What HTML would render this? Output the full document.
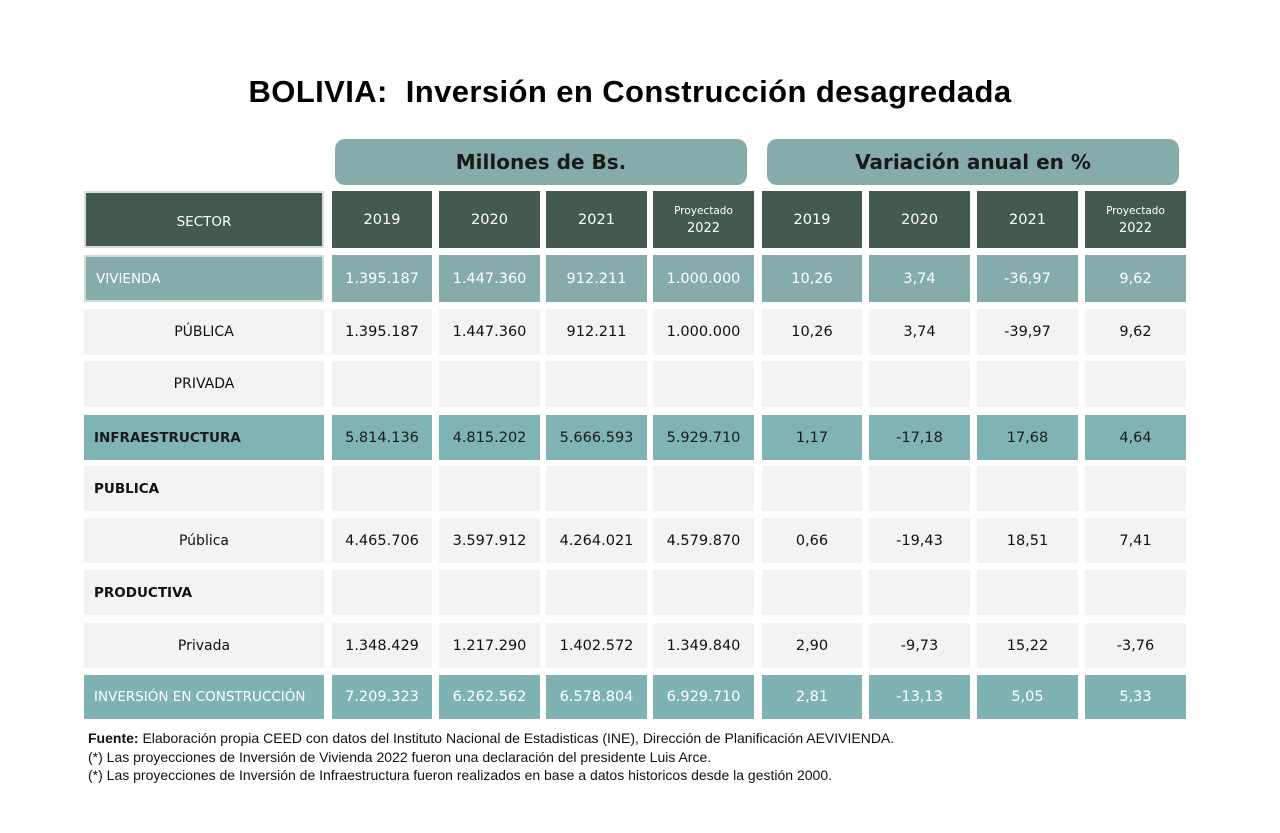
<!DOCTYPE html>
<html><head><meta charset="utf-8"><style>
body{margin:0;width:1280px;height:833px;background:#fff;position:relative;font-family:"DejaVu Sans","Liberation Sans",sans-serif;overflow:hidden}
.t{position:absolute;left:0;width:1260px;top:74px;text-align:center;font:bold 31px "Liberation Sans",sans-serif;color:#000;letter-spacing:0.4px}
.pill{position:absolute;top:139px;height:46px;background:#85abab;border-radius:10px;color:#1a1a1a;font:bold 20px "DejaVu Sans",sans-serif;display:flex;align-items:center;justify-content:center}
.r{position:absolute;left:0;width:1280px}
.c{position:absolute;top:0;height:100%;display:flex;align-items:center;justify-content:center;font-size:14.5px;color:#111;box-sizing:border-box}
.c0{left:84px;width:240px}.c1{left:332px;width:100px}.c2{left:439px;width:101px}.c3{left:546px;width:101px}.c4{left:653px;width:101px}
.c5{left:762px;width:100px}.c6{left:869px;width:101px}.c7{left:977px;width:101px}.c8{left:1085px;width:101px}
.h .c{background:#455a4e;color:#fff;font-size:14.5px}
.h .c0{font-size:13.5px;border:2px solid #d8ddd9;padding-top:4px}
.h small{font-size:10.5px;display:block;text-align:center;line-height:18px}
.h .p{display:block;text-align:center;line-height:18px;font-size:13px}
.l .c{background:#f3f3f3}
.v .c{background:#85abab;color:#fff}
.i .c{background:#80b3b3;color:#1a1a1a}
.z .c{background:#7fb2b2;color:#fff}
.lab{justify-content:flex-start!important;padding-left:10px;font-size:13.5px!important}
.v .c0{border:2px solid #cfdcdc}
.sub{font-size:14px!important}
.b{font-weight:bold}
.f{position:absolute;left:88px;font:14px "Liberation Sans",sans-serif;color:#111}
</style></head><body>
<div class="t">BOLIVIA:&nbsp; Inversión en Construcción desagredada</div>
<div class="pill" style="left:335px;width:412px">Millones de Bs.</div>
<div class="pill" style="left:767px;width:412px">Variación anual en %</div>

<div class="r h" style="top:191px;height:57px"><div class="c c0">SECTOR</div><div class="c c1">2019</div><div class="c c2">2020</div><div class="c c3">2021</div><div class="c c4"><span><small>Proyectado</small><span class="p">2022</span></span></div><div class="c c5">2019</div><div class="c c6">2020</div><div class="c c7">2021</div><div class="c c8"><span><small>Proyectado</small><span class="p">2022</span></span></div></div>

<div class="r v" style="top:255px;height:47px"><div class="c c0 lab">VIVIENDA</div><div class="c c1">1.395.187</div><div class="c c2">1.447.360</div><div class="c c3">912.211</div><div class="c c4">1.000.000</div><div class="c c5">10,26</div><div class="c c6">3,74</div><div class="c c7">-36,97</div><div class="c c8">9,62</div></div>

<div class="r l" style="top:309px;height:46px"><div class="c c0 sub">PÚBLICA</div><div class="c c1">1.395.187</div><div class="c c2">1.447.360</div><div class="c c3">912.211</div><div class="c c4">1.000.000</div><div class="c c5">10,26</div><div class="c c6">3,74</div><div class="c c7">-39,97</div><div class="c c8">9,62</div></div>

<div class="r l" style="top:361px;height:46px"><div class="c c0 sub">PRIVADA</div><div class="c c1"></div><div class="c c2"></div><div class="c c3"></div><div class="c c4"></div><div class="c c5"></div><div class="c c6"></div><div class="c c7"></div><div class="c c8"></div></div>

<div class="r i" style="top:415px;height:45px"><div class="c c0 lab b">INFRAESTRUCTURA</div><div class="c c1">5.814.136</div><div class="c c2">4.815.202</div><div class="c c3">5.666.593</div><div class="c c4">5.929.710</div><div class="c c5">1,17</div><div class="c c6">-17,18</div><div class="c c7">17,68</div><div class="c c8">4,64</div></div>

<div class="r l" style="top:466px;height:45px"><div class="c c0 lab b">PUBLICA</div><div class="c c1"></div><div class="c c2"></div><div class="c c3"></div><div class="c c4"></div><div class="c c5"></div><div class="c c6"></div><div class="c c7"></div><div class="c c8"></div></div>

<div class="r l" style="top:518px;height:45px"><div class="c c0 sub">Pública</div><div class="c c1">4.465.706</div><div class="c c2">3.597.912</div><div class="c c3">4.264.021</div><div class="c c4">4.579.870</div><div class="c c5">0,66</div><div class="c c6">-19,43</div><div class="c c7">18,51</div><div class="c c8">7,41</div></div>

<div class="r l" style="top:570px;height:45px"><div class="c c0 lab b">PRODUCTIVA</div><div class="c c1"></div><div class="c c2"></div><div class="c c3"></div><div class="c c4"></div><div class="c c5"></div><div class="c c6"></div><div class="c c7"></div><div class="c c8"></div></div>

<div class="r l" style="top:623px;height:45px"><div class="c c0 sub">Privada</div><div class="c c1">1.348.429</div><div class="c c2">1.217.290</div><div class="c c3">1.402.572</div><div class="c c4">1.349.840</div><div class="c c5">2,90</div><div class="c c6">-9,73</div><div class="c c7">15,22</div><div class="c c8">-3,76</div></div>

<div class="r z" style="top:675px;height:44px"><div class="c c0 lab">INVERSIÓN EN CONSTRUCCIÓN</div><div class="c c1">7.209.323</div><div class="c c2">6.262.562</div><div class="c c3">6.578.804</div><div class="c c4">6.929.710</div><div class="c c5">2,81</div><div class="c c6">-13,13</div><div class="c c7">5,05</div><div class="c c8">5,33</div></div>

<div class="f" style="top:730px"><b>Fuente:</b> Elaboración propia CEED con datos del Instituto Nacional de Estadisticas (INE), Dirección de Planificación AEVIVIENDA.</div>
<div class="f" style="top:749px">(*) Las proyecciones de Inversión de Vivienda 2022 fueron una declaración del presidente Luis Arce.</div>
<div class="f" style="top:767px">(*) Las proyecciones de Inversión de Infraestructura fueron realizados en base a datos historicos desde la gestión 2000.</div>
</body></html>
